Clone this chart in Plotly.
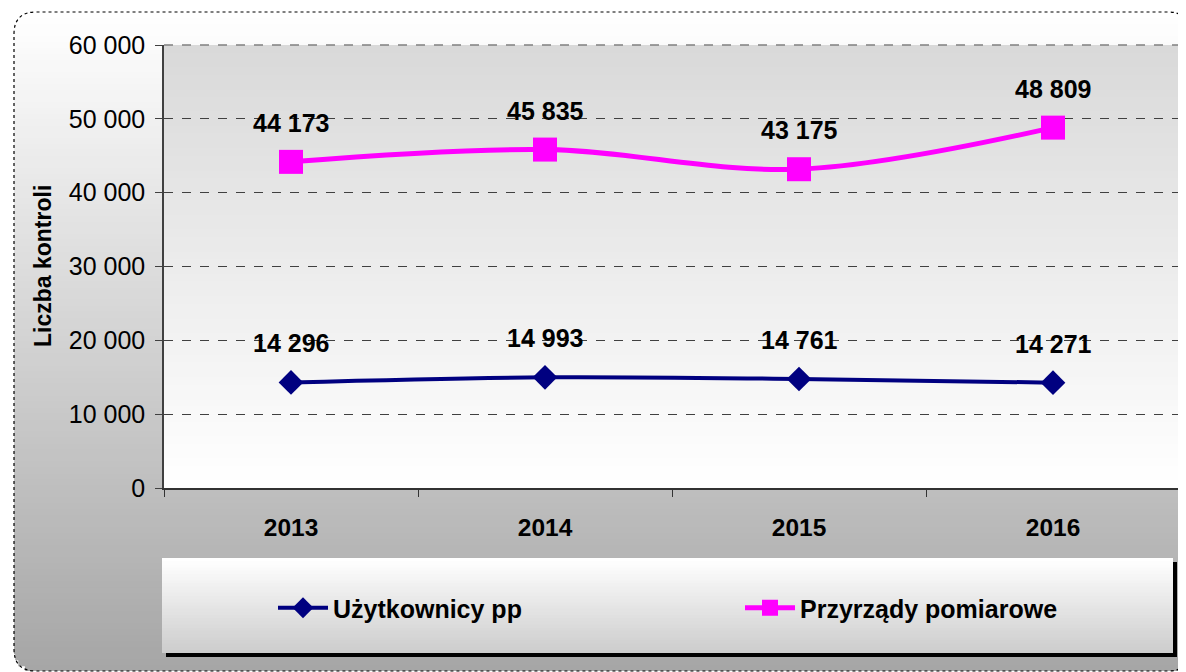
import plotly.graph_objects as go

years = ["2013", "2014", "2015", "2016"]
uzytkownicy = [14296, 14993, 14761, 14271]
przyrzady = [44173, 45835, 43175, 48809]
y_ticks = [0, 10000, 20000, 30000, 40000, 50000, 60000]

OFF = 8  # page body margin
W, H = 1186 - OFF, 672 - OFF
L, R, T = 164 - OFF, 6, 45 - OFF
BOTTOM = 488 - OFF
B = H - BOTTOM
PW = W - L - R
PH = BOTTOM - T

FONT = "Liberation Sans, Arial"


def px(x):
    return (x - OFF - L) / PW


def py(y):
    return (BOTTOM - (y - OFF)) / PH


def fmt(v):
    return f"{v:,}".replace(",", " ")


def mix(c1, c2, t):
    return "rgb(%d,%d,%d)" % tuple(round(a + (b - a) * t) for a, b in zip(c1, c2))


shapes = []

# outer rounded chart area with vertical gradient
ox0, oy0, ox1, oy1, rad = 14, 12, 1190, 671, 22
n = 110
step = (oy1 - oy0) / n
for i in range(n):
    ya = oy0 + i * step
    yb = ya + step + 1.2
    ym = ya + step / 2
    inset = 0
    if ym < oy0 + rad:
        d = oy0 + rad - ym
        inset = rad - (rad ** 2 - d ** 2) ** 0.5
    elif ym > oy1 - rad:
        d = ym - (oy1 - rad)
        inset = rad - (rad ** 2 - min(d, rad) ** 2) ** 0.5
    col = mix((255, 255, 255), (166, 166, 166), i / (n - 1))
    shapes.append(dict(type="rect", xref="paper", yref="paper",
                       x0=px(ox0 + inset), x1=px(ox1 - inset), y0=py(ya), y1=py(min(yb, oy1)),
                       fillcolor=col, line=dict(width=0), layer="below"))

# dotted rounded border
path = (f"M {px(ox0)},{py(oy0 + rad)} Q {px(ox0)},{py(oy0)} {px(ox0 + rad)},{py(oy0)} "
        f"L {px(ox1 - rad)},{py(oy0)} Q {px(ox1)},{py(oy0)} {px(ox1)},{py(oy0 + rad)} "
        f"L {px(ox1)},{py(oy1 - rad)} Q {px(ox1)},{py(oy1)} {px(ox1 - rad)},{py(oy1)} "
        f"L {px(ox0 + rad)},{py(oy1)} Q {px(ox0)},{py(oy1)} {px(ox0)},{py(oy1 - rad)} Z")
shapes.append(dict(type="path", xref="paper", yref="paper", path=path,
                   line=dict(color="black", width=1.2, dash="dot"), layer="below"))

# plot-area gradient
n2 = 60
for i in range(n2):
    ya = i / n2
    yb = (i + 1) / n2 + 0.004
    col = mix((217, 217, 217), (255, 255, 255), i / (n2 - 1))
    shapes.append(dict(type="rect", xref="paper", yref="paper",
                       x0=0, x1=1, y0=max(0, 1 - yb), y1=1 - ya,
                       fillcolor=col, line=dict(width=0), layer="below"))

# dashed top / right plot border
shapes.append(dict(type="line", xref="paper", yref="paper", x0=0, x1=1, y0=1, y1=1,
                   line=dict(color="#808080", width=1.5, dash="dash"), layer="above"))
shapes.append(dict(type="line", xref="paper", yref="paper", x0=1, x1=1, y0=0, y1=1,
                   line=dict(color="#808080", width=1.5, dash="dash"), layer="above"))

# legend box with shadow and gradient
lx0, ly0, lx1, ly1 = 162, 558, 1173, 653
shapes.append(dict(type="rect", xref="paper", yref="paper",
                   x0=px(lx0 + 4), x1=px(lx1 + 4), y0=py(ly0 + 4), y1=py(ly1 + 4),
                   fillcolor="black", line=dict(width=0), layer="below"))
n3 = 30
st3 = (ly1 - ly0) / n3
for i in range(n3):
    ya = ly0 + i * st3
    yb = ya + st3 + 1.5
    col = mix((255, 255, 255), (205, 205, 205), i / (n3 - 1))
    shapes.append(dict(type="rect", xref="paper", yref="paper",
                       x0=px(lx0), x1=px(lx1), y0=py(ya), y1=py(min(yb, ly1)),
                       fillcolor=col, line=dict(width=0), layer="below"))

fig = go.Figure()
fig.add_trace(go.Scatter(
    x=years, y=uzytkownicy, name="Użytkownicy pp", mode="lines+markers",
    line=dict(color="#000080", width=4, shape="spline", smoothing=1),
    marker=dict(symbol="diamond", size=19, color="#000080"),
    legend="legend", hoverinfo="skip"))
fig.add_trace(go.Scatter(
    x=years, y=przyrzady, name="Przyrządy pomiarowe", mode="lines+markers",
    line=dict(color="#ff00ff", width=5, shape="spline", smoothing=1),
    marker=dict(symbol="square", size=24, color="#ff00ff"),
    legend="legend2", hoverinfo="skip"))

annotations = []
for series in (uzytkownicy, przyrzady):
    for i, yv in enumerate(series):
        annotations.append(dict(x=i, y=yv, xref="x", yref="y", text=fmt(yv),
                                showarrow=False, yshift=39, xanchor="center",
                                yanchor="middle",
                                font=dict(family=FONT, size=25, color="black",
                                          weight="bold")))
annotations.append(dict(x=px(43), y=py(266), xref="paper", yref="paper",
                        text="Liczba kontroli", textangle=-90, showarrow=False,
                        xanchor="center", yanchor="middle",
                        font=dict(family=FONT, size=23, color="black",
                                  weight="bold")))

fig.update_layout(
    width=W, height=H,
    margin=dict(l=L, r=R, t=T, b=B),
    paper_bgcolor="white",
    plot_bgcolor="rgba(0,0,0,0)",
    shapes=shapes,
    annotations=annotations,
    showlegend=True,
    legend=dict(x=px(273), y=py(608), xanchor="left", yanchor="middle",
                bgcolor="rgba(0,0,0,0)", itemwidth=50,
                font=dict(family=FONT, size=25, color="black", weight="bold")),
    legend2=dict(x=px(740), y=py(608), xanchor="left", yanchor="middle",
                 bgcolor="rgba(0,0,0,0)", itemwidth=50,
                 font=dict(family=FONT, size=25, color="black", weight="bold")),
    font=dict(family=FONT, color="black"),
)

fig.update_xaxes(
    type="category", range=[-0.5, 3.5], showgrid=False,
    showline=True, linecolor="#333333", linewidth=1.5,
    ticks="outside", tickson="boundaries", ticklen=7, tickcolor="#333333",
    tickfont=dict(family=FONT, size=24.5, color="black", weight="bold"),
    ticklabelstandoff=17, zeroline=False, fixedrange=True,
)
fig.update_yaxes(
    range=[0, 60000], tickvals=y_ticks, ticktext=[fmt(v) for v in y_ticks],
    showgrid=True, gridcolor="#404040", griddash="dash", gridwidth=1,
    showline=True, linecolor="#404040", linewidth=1.5,
    ticks="outside", ticklen=7, tickcolor="#404040",
    tickfont=dict(family=FONT, size=25, color="black"),
    ticklabelstandoff=5, zeroline=False, fixedrange=True,
)

fig.write_html("out.html")
